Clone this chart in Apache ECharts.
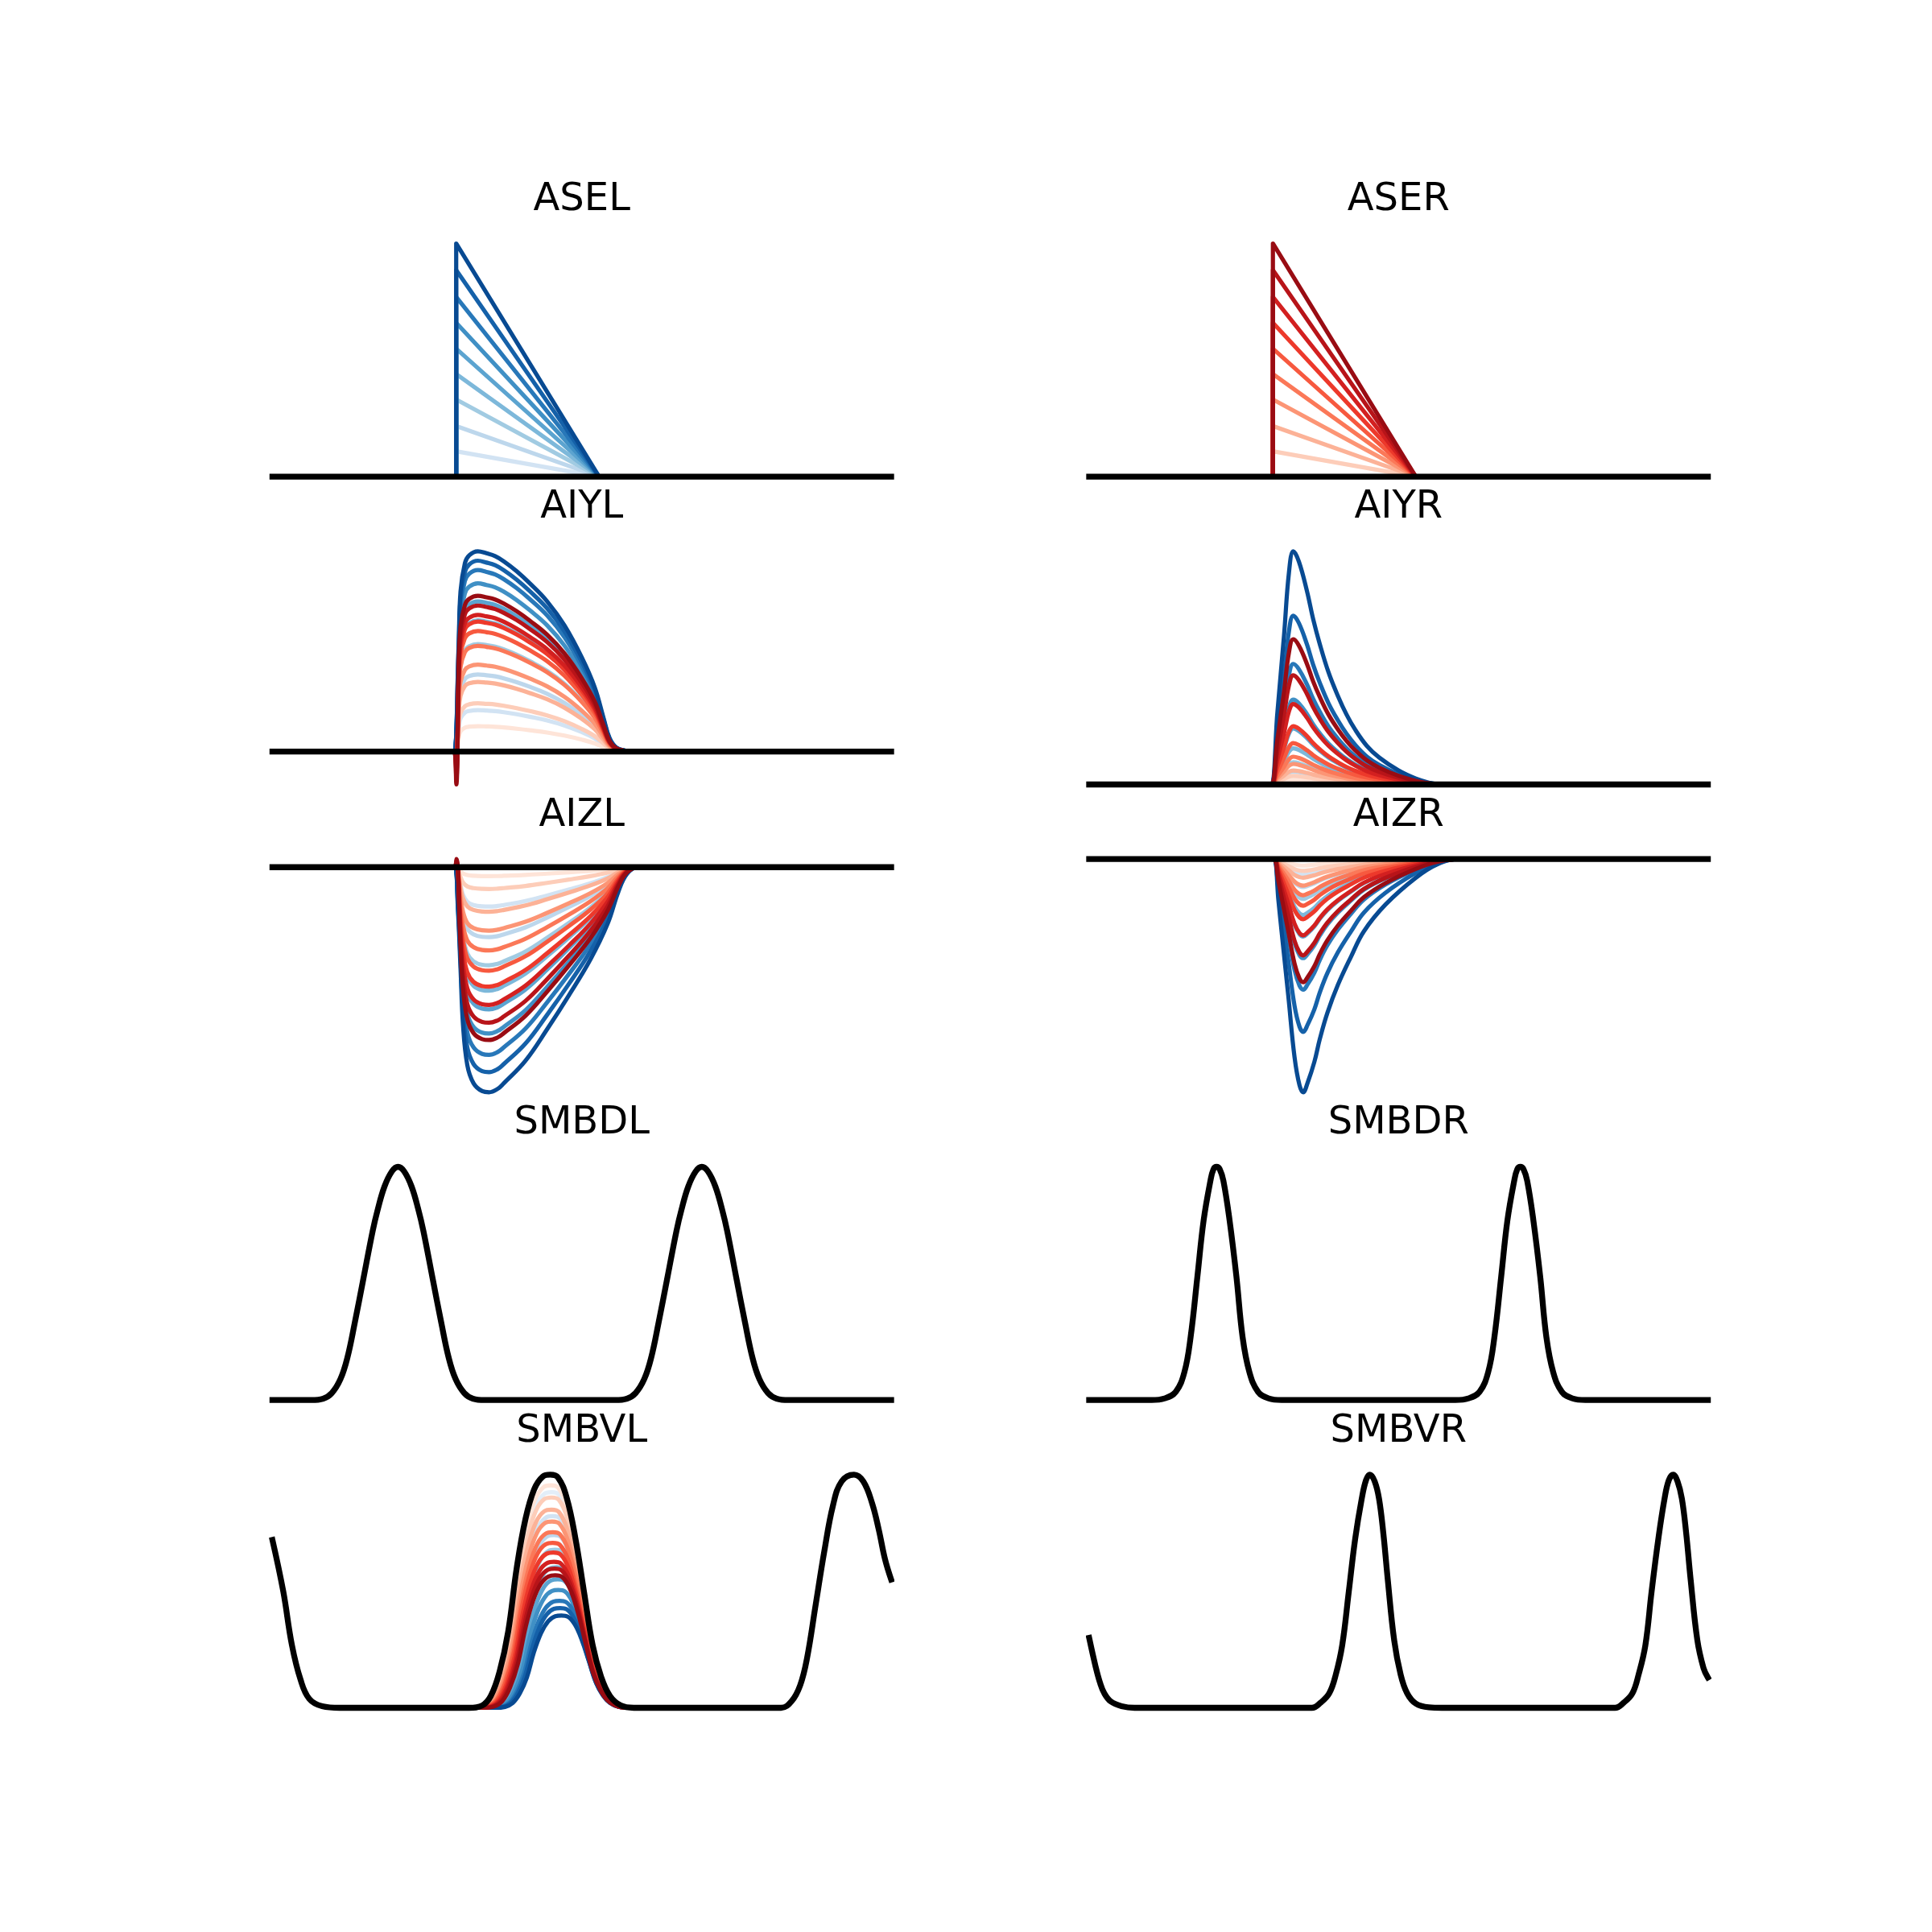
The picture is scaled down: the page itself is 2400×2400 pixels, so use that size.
<!DOCTYPE html>
<html><head><meta charset="utf-8">
<script src="https://cdn.jsdelivr.net/npm/echarts@6/dist/echarts.min.js"></script>
<style>html,body{margin:0;padding:0;background:#fff}#c{width:2400px;height:2400px}</style>
</head><body><div id="c"></div>
<script>
// ---------------- DATA (x in 0..100 time units) ----------------
const TITLES = ['ASEL','ASER','AIYL','AIYR','AIZL','AIZR','SMBDL','SMBDR','SMBVL','SMBVR'];

// ASE: triangular activations
const ASE_ON = 29.7, ASE_OFF = 52.8;
const ASE_HEIGHTS = [0, 0.109, 0.217, 0.331, 0.44, 0.549, 0.66, 0.771, 0.886, 1.0];

// AIYL
const AIYL_X = [0, 29.0, 29.4, 30.1, 30.4, 31.1, 31.8, 33.2, 34.6, 36.0, 37.4, 39.5, 41.6, 44.4, 47.2, 50.0, 52.1, 53.5, 54.5, 55.6, 57.0, 58.4, 100];
const AIYL_SHAPE = [0, 0, 0, 0.535, 0.80, 0.94, 0.98, 1.0, 0.99, 0.976, 0.95, 0.90, 0.84, 0.75, 0.63, 0.47, 0.32, 0.17, 0.067, 0.02, 0.005, 0, 0];
const AIYL_BLUE_AMP = [0, 0.207, 0.385, 0.537, 0.655, 0.75, 0.84, 0.906, 0.953, 1.0];
const AIYL_RED_AMP = [0.127, 0.241, 0.348, 0.434, 0.528, 0.602, 0.649, 0.682, 0.729, 0.778];
const AIYL_RED_DIP = [0, 0, 0, 0.02, 0.04, 0.06, 0.08, 0.10, 0.13, 0.164];

// AIYR
const AIYR_X = [0, 29.0, 29.5, 30.4, 31.5, 32.3, 33.0, 33.9, 35.2, 36.2, 37.3, 38.7, 40.2, 41.6, 43.0, 44.9, 46.9, 50.0, 52.8, 54.9, 57.0, 100];
const AIYR_SHAPE = [0, 0, 0, 0.30, 0.64, 0.91, 1.0, 0.956, 0.83, 0.71, 0.60, 0.48, 0.38, 0.30, 0.235, 0.165, 0.115, 0.06, 0.025, 0.008, 0, 0];
const AIYR_BLUE_AMP = [0, 0.025, 0.055, 0.095, 0.155, 0.24, 0.364, 0.517, 0.724, 1.0];
const AIYR_RED_AMP = [0.02, 0.037, 0.06, 0.088, 0.119, 0.177, 0.25, 0.345, 0.468, 0.623];

// AIZL
const AIZL_X = [0, 29.0, 29.5, 30.0, 30.4, 30.8, 31.5, 32.5, 33.9, 35.0, 36.4, 37.4, 40.9, 44.4, 47.9, 51.4, 54.2, 55.9, 57.3, 59.1, 100];
const AIZL_SHAPE = [0, 0, 0, -0.2, -0.45, -0.7, -0.88, -0.96, -0.995, -1.0, -0.985, -0.96, -0.86, -0.72, -0.57, -0.41, -0.25, -0.11, -0.03, 0, 0];
const AIZL_BLUE_AMP = [0, 0.175, 0.311, 0.436, 0.549, 0.632, 0.739, 0.834, 0.911, 1.0];
const AIZL_RED_AMP = [0.04, 0.097, 0.198, 0.282, 0.37, 0.46, 0.531, 0.612, 0.691, 0.768];
const AIZL_RED_SPIKE = [0, 0, 0, 0, 0.005, 0.01, 0.015, 0.02, 0.028, 0.036];

// AIZR
const AIZR_X = [0, 29.4, 29.9, 30.6, 31.1, 32.2, 33.2, 34.0, 34.6, 35.3, 36.4, 37.3, 38.5, 40.2, 42.3, 44.4, 47.9, 52.8, 56.3, 59.8, 100];
const AIZR_SHAPE = [0, 0, 0, -0.18, -0.31, -0.59, -0.85, -0.97, -1.0, -0.96, -0.87, -0.77, -0.66, -0.54, -0.42, -0.31, -0.195, -0.08, -0.022, 0, 0];
const AIZR_BLUE_AMP = [0, 0.068, 0.12, 0.171, 0.24, 0.332, 0.425, 0.56, 0.741, 1.0];
const AIZR_RED_AMP = [0.028, 0.051, 0.08, 0.114, 0.155, 0.2, 0.258, 0.327, 0.413, 0.528];

// SMBDL
const SMBDL_X = [0, 6.3, 8.2, 9.6, 11.0, 12.1, 13.3, 14.7, 16.2, 17.0, 18.1, 19.3, 20.3, 21.3, 22.5, 23.6, 24.4, 25.9, 27.3, 28.5, 29.6, 31.0, 32.4, 34.3, 55.4, 57.3, 58.7, 60.1, 61.2, 62.4, 63.8, 65.3, 66.1, 67.2, 68.4, 69.4, 70.4, 71.6, 72.7, 73.5, 75.0, 76.4, 77.6, 78.7, 80.1, 81.5, 83.4, 100];
const SMBDL_Y = [0, 0, 0.006, 0.03, 0.09, 0.18, 0.33, 0.52, 0.725, 0.815, 0.915, 0.98, 1, 0.98, 0.915, 0.815, 0.725, 0.52, 0.33, 0.18, 0.09, 0.03, 0.006, 0, 0, 0.006, 0.03, 0.09, 0.18, 0.33, 0.52, 0.725, 0.815, 0.915, 0.98, 1, 0.98, 0.915, 0.815, 0.725, 0.52, 0.33, 0.18, 0.09, 0.03, 0.006, 0, 0];

// SMBDR
const SMBDR_X = [0, 10.1, 12.2, 14.0, 15.4, 16.4, 17.5, 18.5, 19.6, 20.1, 20.6, 21.1, 21.7, 22.7, 23.8, 24.8, 25.9, 27.3, 29.0, 31.1, 59.2, 61.3, 63.1, 64.5, 65.5, 66.6, 67.6, 68.7, 69.2, 69.7, 70.2, 70.8, 71.8, 72.9, 73.9, 75.0, 76.4, 78.1, 80.2, 100];
const SMBDR_Y = [0, 0, 0.007, 0.035, 0.12, 0.27, 0.53, 0.77, 0.94, 0.99, 1, 0.99, 0.94, 0.77, 0.53, 0.27, 0.12, 0.035, 0.007, 0, 0, 0.007, 0.035, 0.12, 0.27, 0.53, 0.77, 0.94, 0.99, 1, 0.99, 0.94, 0.77, 0.53, 0.27, 0.12, 0.035, 0.007, 0, 0];

// SMBVL
const SMBVL_X = [0, 1.75, 3.15, 4.55, 5.94, 8.04, 10.84, 31.8, 33.9, 35.3, 36.7, 38.1, 39.5, 40.9, 42.3, 43.7, 44.9, 46.15, 47.55, 48.95, 50.35, 51.75, 53.15, 54.55, 56.3, 58.4, 82.2, 83.9, 85.3, 86.4, 87.8, 89.2, 90.6, 92.0, 94.0, 95.5, 96.9, 98.0, 99.0, 100];
const SMBVL_Y = [0.72, 0.499, 0.269, 0.12, 0.039, 0.007, 0, 0, 0.01, 0.051, 0.154, 0.327, 0.603, 0.81, 0.937, 0.992, 1, 0.988, 0.902, 0.73, 0.499, 0.269, 0.131, 0.051, 0.01, 0, 0, 0.028, 0.097, 0.212, 0.442, 0.672, 0.868, 0.971, 1, 0.971, 0.879, 0.764, 0.638, 0.55];
const SMBVL_BUMP_DX = [-13.1, -11.1, -9.6, -8.2, -6.8, -5.4, -4.0, -2.6, -1.2, 0, 1.25, 2.65, 4.05, 5.45, 6.85, 8.25, 9.65, 11.4, 13.5];
const SMBVL_BUMP_Y = [0, 0.01, 0.051, 0.154, 0.327, 0.603, 0.81, 0.937, 0.992, 1, 0.988, 0.902, 0.73, 0.499, 0.269, 0.131, 0.051, 0.01, 0];
const SMBVL_RED_PEAK_X = [45.0, 45.1, 45.1, 45.2, 45.3, 45.3, 45.4, 45.5, 45.6, 45.7];
const SMBVL_RED_HEIGHT = [0.954, 0.902, 0.85, 0.799, 0.753, 0.707, 0.666, 0.626, 0.597, 0.568];
const SMBVL_RED_WIDTH = [0.98, 0.97, 0.96, 0.95, 0.94, 0.93, 0.92, 0.91, 0.9, 0.89];
const SMBVL_BLUE_PEAK_X = [45.1, 45.3, 45.5, 45.7, 45.9, 46.1, 46.2, 46.4, 46.5, 46.7];
const SMBVL_BLUE_HEIGHT = [0.925, 0.822, 0.741, 0.678, 0.603, 0.551, 0.505, 0.459, 0.428, 0.396];
const SMBVL_BLUE_WIDTH = [0.96, 0.94, 0.92, 0.9, 0.88, 0.86, 0.85, 0.84, 0.83, 0.82];

// SMBVR
const SMBVR_X = [0, 1.05, 1.75, 2.45, 3.5, 5.24, 7.34, 36.0, 37.4, 38.8, 39.86, 40.9, 41.96, 43.0, 44.06, 44.76, 45.38, 46.15, 46.85, 47.55, 48.25, 49.3, 50.35, 51.4, 52.8, 54.9, 57.0, 85.0, 86.4, 87.8, 88.8, 89.9, 90.9, 92.0, 93.0, 93.7, 94.4, 95.1, 95.8, 96.5, 97.2, 98.3, 99.3, 100];
const SMBVR_Y = [0.30, 0.176, 0.108, 0.062, 0.027, 0.007, 0, 0, 0.022, 0.062, 0.142, 0.268, 0.497, 0.725, 0.897, 0.977, 1, 0.971, 0.897, 0.748, 0.554, 0.29, 0.142, 0.062, 0.018, 0.002, 0, 0, 0.022, 0.062, 0.142, 0.268, 0.497, 0.725, 0.897, 0.977, 1, 0.971, 0.897, 0.748, 0.554, 0.29, 0.17, 0.13];

// ---------------- helpers ----------------
const N = 10;
const FLAT = [[0, 0], [100, 0]];
const pairs = (xs, ys, s) => xs.map((x, i) => [x, ys[i] * (s === undefined ? 1 : s)]);
const tri = h => [[0, 0], [ASE_ON, 0], [ASE_ON, h], [ASE_OFF, 0], [100, 0]];
const range = n => Array.from({length: n}, (_, i) => i);

const BLUES = ['#f7fbff','#deebf7','#c6dbef','#9ecae1','#6baed6','#4292c6','#2171b5','#08519c','#08306b'];
const REDS = ['#fff5f0','#fee0d2','#fcbba1','#fc9272','#fb6a4a','#ef3b2c','#cb181d','#a50f15','#67000d'];
function hex(h) { return [1, 3, 5].map(i => parseInt(h.substr(i, 2), 16)); }
function cmap(stops, t) {
  const p = t * (stops.length - 1);
  const i = Math.min(Math.floor(p), stops.length - 2);
  const f = p - i;
  const a = hex(stops[i]), b = hex(stops[i + 1]);
  const c = a.map((v, j) => Math.round(v + (b[j] - v) * f));
  return 'rgb(' + c.join(',') + ')';
}
const tk = k => 0.1 + 0.8 * k / 9;

function blackWithBump(peak, h, w) {
  const bump = SMBVL_BUMP_DX.map((dx, i) => [peak + dx * w, SMBVL_BUMP_Y[i] * h]);
  const base = pairs(SMBVL_X, SMBVL_Y);
  return base.filter(p => p[0] < 33).concat(bump, base.filter(p => p[0] > 58));
}

// ---------------- panels ----------------
const panels = [
  { blue: range(N).map(k => tri(ASE_HEIGHTS[k])), red: range(N).map(() => FLAT), black: FLAT, smooth: false },
  { blue: range(N).map(() => FLAT), red: range(N).map(k => tri(ASE_HEIGHTS[k])), black: FLAT, smooth: false },
  { blue: range(N).map(k => pairs(AIYL_X, AIYL_SHAPE, AIYL_BLUE_AMP[k])),
    red: range(N).map(k => [[0, 0], [29.0, 0], [29.4, 0], [29.72, -AIYL_RED_DIP[k]]].concat(
          pairs(AIYL_X, AIYL_SHAPE, AIYL_RED_AMP[k]).filter(p => p[0] >= 30.1))),
    black: FLAT, smooth: true },
  { blue: range(N).map(k => pairs(AIYR_X, AIYR_SHAPE, AIYR_BLUE_AMP[k])),
    red: range(N).map(k => pairs(AIYR_X, AIYR_SHAPE, AIYR_RED_AMP[k])), black: FLAT, smooth: true },
  { blue: range(N).map(k => pairs(AIZL_X, AIZL_SHAPE, AIZL_BLUE_AMP[k])),
    red: range(N).map(k => [[0, 0], [29.0, 0], [29.45, 0], [29.75, AIZL_RED_SPIKE[k]]].concat(
          pairs(AIZL_X, AIZL_SHAPE, AIZL_RED_AMP[k]).filter(p => p[0] >= 30.4))),
    black: FLAT, smooth: true },
  { blue: range(N).map(k => pairs(AIZR_X, AIZR_SHAPE, AIZR_BLUE_AMP[k])),
    red: range(N).map(k => pairs(AIZR_X, AIZR_SHAPE, AIZR_RED_AMP[k])), black: FLAT, smooth: true },
  { blue: range(N).map(() => pairs(SMBDL_X, SMBDL_Y)), red: range(N).map(() => pairs(SMBDL_X, SMBDL_Y)),
    black: pairs(SMBDL_X, SMBDL_Y), smooth: true },
  { blue: range(N).map(() => pairs(SMBDR_X, SMBDR_Y)), red: range(N).map(() => pairs(SMBDR_X, SMBDR_Y)),
    black: pairs(SMBDR_X, SMBDR_Y), smooth: true },
  { blue: range(N).map(k => blackWithBump(SMBVL_BLUE_PEAK_X[k], SMBVL_BLUE_HEIGHT[k], SMBVL_BLUE_WIDTH[k])),
    red: range(N).map(k => blackWithBump(SMBVL_RED_PEAK_X[k], SMBVL_RED_HEIGHT[k], SMBVL_RED_WIDTH[k])),
    black: pairs(SMBVL_X, SMBVL_Y), smooth: true },
  { blue: range(N).map(() => pairs(SMBVR_X, SMBVR_Y)), red: range(N).map(() => pairs(SMBVR_X, SMBVR_Y)),
    black: pairs(SMBVR_X, SMBVR_Y), smooth: true }
];

// ---------------- layout (matplotlib 5x2 default subplot geometry) ----------------
const COL_LEFT = [338.43, 1352.98];
const PLOT_W = 768.59;
const ROW_TOP = [302.48, 684.82, 1067.16, 1449.50, 1831.84];
const PLOT_H = 289.66;
const COLORED_W = 5.2, BLACK_W = 7.3;

const grids = [], xAxes = [], yAxes = [], series = [], graphics = [];
panels.forEach((p, i) => {
  const col = i % 2, row = Math.floor(i / 2);
  grids.push({ left: COL_LEFT[col], top: ROW_TOP[row], width: PLOT_W, height: PLOT_H });
  const all = p.blue.concat(p.red, [p.black]);
  let ymin = Infinity, ymax = -Infinity;
  all.forEach(d => d.forEach(pt => { ymin = Math.min(ymin, pt[1]); ymax = Math.max(ymax, pt[1]); }));
  xAxes.push({ type: 'value', gridIndex: i, min: 0, max: 100, show: false });
  yAxes.push({ type: 'value', gridIndex: i, min: ymin, max: ymax, show: false });
  const mk = (data, color, width) => ({
    type: 'line', xAxisIndex: i, yAxisIndex: i, data, symbol: 'none', showSymbol: false,
    smooth: p.smooth ? 0.4 : false, clip: false, silent: true, animation: false,
    lineStyle: { color, width, cap: 'square', join: 'round' }
  });
  p.blue.forEach((d, k) => series.push(mk(d, cmap(BLUES, tk(k)), COLORED_W)));
  p.red.forEach((d, k) => series.push(mk(d, cmap(REDS, tk(k)), COLORED_W)));
  series.push(mk(p.black, '#000000', BLACK_W));
  graphics.push({
    type: 'text', x: COL_LEFT[col] + PLOT_W / 2, y: ROW_TOP[row] - 53.8,
    style: { text: TITLES[i], fontSize: 48, fontFamily: 'DejaVu Sans', fill: '#000',
             align: 'center', verticalAlign: 'middle', textAlign: 'center', textVerticalAlign: 'middle' }
  });
});

const chart = echarts.init(document.getElementById('c'), null, { renderer: 'canvas', width: 2400, height: 2400 });
chart.setOption({
  backgroundColor: '#ffffff',
  animation: false,
  grid: grids, xAxis: xAxes, yAxis: yAxes, series, graphic: graphics
});
</script>
</body></html>
